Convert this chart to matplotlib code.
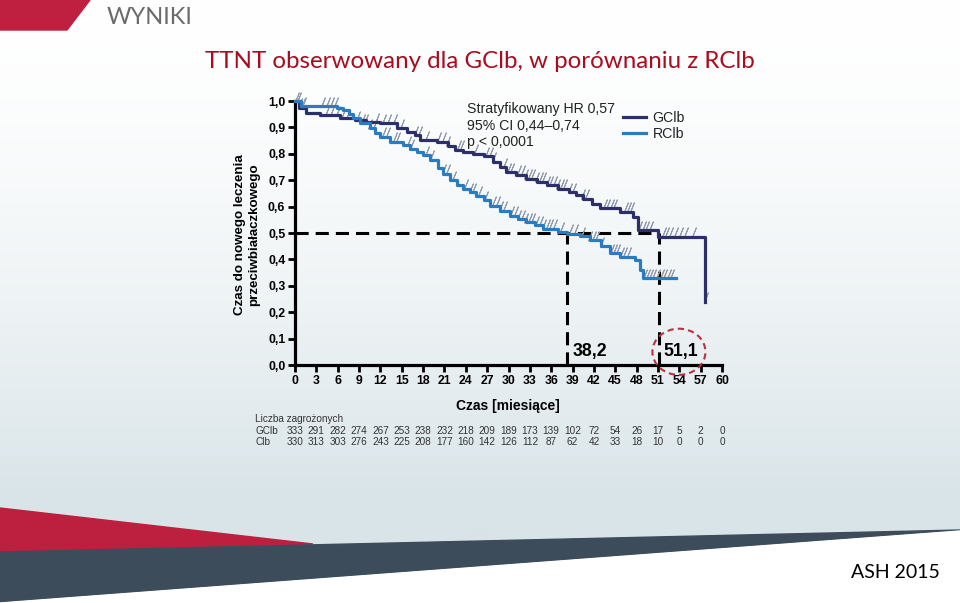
import numpy as np
import matplotlib
matplotlib.use("Agg")
import matplotlib.pyplot as plt
from matplotlib.patches import Polygon, Ellipse
from matplotlib.transforms import ScaledTranslation

# Kaplan-Meier step data
gclb_t = [0, 0.5, 1.6, 3.5, 6.3, 8.5, 10, 12, 14.3, 15.7, 16.8, 17.6, 19.9, 21.5, 22.5, 23.6, 25, 26.5,
          27.8, 28.8, 29.7, 31, 32.5, 34, 35.4, 37, 38.5, 39.5, 40.5, 41.8, 42.8, 45.7, 47.5, 48.2, 51.0, 57.6]
gclb_s = [1.0, 0.975, 0.953, 0.947, 0.934, 0.928, 0.92, 0.915, 0.896, 0.884, 0.87, 0.852, 0.845, 0.83, 0.815,
          0.805, 0.80, 0.79, 0.77, 0.75, 0.73, 0.72, 0.705, 0.695, 0.68, 0.668, 0.655, 0.645, 0.63, 0.61, 0.593,
          0.58, 0.56, 0.51, 0.486, 0.24]
rclb_t = [0, 0.8, 5.9, 6.8, 7.6, 8.2, 9.1, 10.5, 11.3, 12, 13.3, 15.2, 16.2, 17.1, 18, 19, 20.1, 20.8, 21.8,
          22.7, 23.6, 24.6, 25.5, 26.5, 27.4, 28.8, 30.2, 31.3, 32.5, 33.7, 34.9, 37.0, 38.2, 40, 41.4, 43,
          44.3, 45.7, 47.8, 48.5, 48.9, 53.6]
rclb_s = [1.0, 0.98, 0.975, 0.965, 0.95, 0.935, 0.915, 0.896, 0.88, 0.865, 0.846, 0.833, 0.82, 0.808, 0.795,
          0.777, 0.745, 0.725, 0.70, 0.68, 0.667, 0.655, 0.642, 0.625, 0.604, 0.585, 0.566, 0.553, 0.541, 0.53,
          0.516, 0.504, 0.498, 0.488, 0.473, 0.45, 0.423, 0.41, 0.398, 0.36, 0.328, 0.328]

# censored observations (months)
gclb_cens = [0.3, 0.7, 1.1, 4.5, 5.2, 6, 6.8, 7.5, 8.8, 11.5, 12.5, 13.2, 14, 15, 17, 17.5, 18.5,
             20.2, 21, 21.5, 23, 23.5, 25.5, 27, 27.5, 28, 29.5, 30, 30.5, 31.5, 32, 32.5, 33, 33.5, 34, 34.5,
             35, 35.5, 36, 36.5, 37, 37.5, 38, 38.7, 39.2, 40.5, 41, 43.5, 44, 44.5, 45, 46.5, 47, 47.3, 48.5,
             49, 49.5, 50, 51.8, 52.3, 52.8, 53.5, 54.2, 55, 56, 57.8]
rclb_cens = [0.5, 1.2, 4, 4.6, 5.2, 5.8, 9.5, 10, 10.5, 11.2, 12.5, 13, 14, 14.5, 16, 16.5, 18.5, 19.3,
             21, 21.5, 22.3, 24, 24.8, 25.2, 26, 26.8, 28, 28.5, 29, 29.5, 30.5, 31, 31.5, 32, 32.5, 33, 33.5,
             34, 34.5, 35, 35.5, 36, 36.5, 37.5, 38.8, 39.5, 40.5, 41.5, 42, 42.5, 43.2, 44.5, 45, 45.4, 46,
             46.4, 47, 49.2, 49.6, 50, 50.5, 51, 51.5, 52, 52.5, 53]

months = list(range(0, 61, 3))
risk_gclb = [333, 291, 282, 274, 267, 253, 238, 232, 218, 209, 189, 173, 139, 102, 72, 54, 26, 17, 5, 2, 0]
risk_clb = [330, 313, 303, 276, 243, 225, 208, 177, 160, 142, 126, 112, 87, 62, 42, 33, 18, 10, 0, 0, 0]
yticks = [0.0, 0.1, 0.2, 0.3, 0.4, 0.5, 0.6, 0.7, 0.8, 0.9, 1.0]
median_rclb = 38.2
median_gclb = 51.1

dark = "#2D3068"
light = "#2B7CBE"
chart_font = "Liberation Sans"
slide_font = "Lato"

W, H = 960, 603
fig = plt.figure(figsize=(9.6, 6.03), dpi=100)

# slide background
bg = fig.add_axes([0, 0, 1, 1])
bg.set_xlim(0, W)
bg.set_ylim(H, 0)
bg.axis("off")
yy = np.linspace(0, 1, 400)
frac = np.clip(yy * H / 500.0, 0, 1) ** 1.6
top_c = np.array([1.0, 1.0, 1.0])
bot_c = np.array([0xD9, 0xE4, 0xE8]) / 255.0
grad = top_c + (bot_c - top_c) * frac[:, None]
bg.imshow(grad[:, None, :], extent=(0, W, H, 0), aspect="auto", zorder=0)
bg.add_patch(Polygon([(0, 0), (90, 0), (67, 30), (0, 30)], closed=True, color="#C0203F", zorder=1))
bg.add_patch(Polygon([(0, 508), (313, 544), (0, 552)], closed=True, color="#BD1F3E", zorder=1))
bg.add_patch(Polygon([(0, 552), (960, 530), (0, 602)], closed=True, color="#3D4C5B", zorder=1))
bg.add_patch(Polygon([(0, 603), (960, 531), (960, 603)], closed=True, color="white", zorder=1))
bg.text(107, 18, "WYNIKI", fontsize=17, color="#6B6B6B", family=slide_font, va="center", ha="left")
bg.text(480, 62, "TTNT obserwowany dla GClb, w porównaniu z RClb", fontsize=17.4, color="#AA0B1F",
        family=slide_font, va="center", ha="center")
bg.text(940, 573, "ASH 2015", fontsize=14, color="black", family=slide_font, va="center", ha="right")

# chart axes
x0, x1, ytop, ybot = 295, 722, 101, 365
ax = fig.add_axes([x0 / W, 1 - ybot / H, (x1 - x0) / W, (ybot - ytop) / H])
ax.patch.set_alpha(0)
ax.set_xlim(0, 60)
ax.set_ylim(0, 1.0)
for s in ["top", "right"]:
    ax.spines[s].set_visible(False)
for s in ["left", "bottom"]:
    ax.spines[s].set_linewidth(2.3)
ax.set_xticks(months)
ax.set_xticklabels([str(m) for m in months])
ax.set_yticks(yticks)
ax.set_yticklabels([f"{v:.1f}".replace(".", ",") for v in yticks])
ax.tick_params(direction="out", length=5, width=2, pad=2, labelsize=8.8)
for lab in ax.get_xticklabels() + ax.get_yticklabels():
    lab.set_fontweight("bold")
    lab.set_family(chart_font)

ax.step(gclb_t, gclb_s, where="post", color=dark, lw=2.3, clip_on=False, zorder=4, label="GClb")
ax.step(rclb_t, rclb_s, where="post", color=light, lw=2.3, clip_on=False, zorder=4, label="RClb")


def at(t_arr, s_arr, times):
    idx = np.searchsorted(t_arr, times, side="right") - 1
    return np.array(s_arr)[idx]


for cens, tt, ss in [(gclb_cens, gclb_t, gclb_s), (rclb_cens, rclb_t, rclb_s)]:
    ax.plot(cens, at(tt, ss, cens) + 0.017, ls="none", marker=(2, 2, -22), ms=7.5, mew=0.7,
            color="#929BAC", clip_on=False, zorder=3)

dash = (0, (4.3, 2.3))
ax.plot([0, median_gclb], [0.5, 0.5], color="black", lw=2.2, ls=dash, zorder=2)
ax.plot([median_rclb, median_rclb], [0, 0.5], color="black", lw=2.2, ls=dash, zorder=2)
ax.plot([median_gclb, median_gclb], [0, 0.5], color="black", lw=2.2, ls=dash, zorder=2)
ax.text(41.4, 0.05, "38,2", fontsize=12.8, fontweight="bold", family=chart_font, ha="center", va="center")
ax.text(54.2, 0.05, "51,1", fontsize=12.8, fontweight="bold", family=chart_font, ha="center", va="center")
ax.add_patch(Ellipse((53.95, 0.05), 7.45, 0.175, fill=False, ec="#B8323F", lw=1.5, ls=(0, (3, 2)),
                     clip_on=False, zorder=5))

ax.text(24.2, 0.995, "Stratyfikowany HR 0,57\n95% CI 0,44–0,74\np < 0,0001", fontsize=10.2,
        family=chart_font, color="#222222", va="top", ha="left", linespacing=1.2)
leg = ax.legend(loc="upper left", bbox_to_anchor=(0.738, 1.01), frameon=False, handlelength=1.6,
                handletextpad=0.5, labelspacing=0.15, prop={"family": chart_font, "size": 10.2})
for t in leg.get_texts():
    t.set_color("#222222")

# axis labels
fig.text(247 / W, 1 - 235 / H, "Czas do nowego leczenia\nprzeciwbiałaczkowego", rotation=90,
         fontsize=9.6, fontweight="bold", family=chart_font, ha="center", va="center", linespacing=1.3)
fig.text(508 / W, 1 - 406 / H, "Czas [miesiące]", fontsize=10, fontweight="bold", family=chart_font,
         ha="center", va="center")

# numbers at risk
fs_risk = 7.2
fig.text(255 / W, 1 - 419 / H, "Liczba zagrożonych", fontsize=fs_risk, family=chart_font, color="#333333",
         va="center")
for lab, row, yp in [("GClb", risk_gclb, 431), ("Clb", risk_clb, 442)]:
    fig.text(255 / W, 1 - yp / H, lab, fontsize=fs_risk, family=chart_font, color="#333333", va="center")
    off = ax.get_xaxis_transform() + ScaledTranslation(0, -(yp - ybot) / 100.0, fig.dpi_scale_trans)
    for m, n in zip(months, row):
        ax.text(m, 0, str(n), transform=off, fontsize=fs_risk, family=chart_font,
                color="#333333", ha="center", va="center", clip_on=False)

fig.savefig("out.png", dpi=100)
